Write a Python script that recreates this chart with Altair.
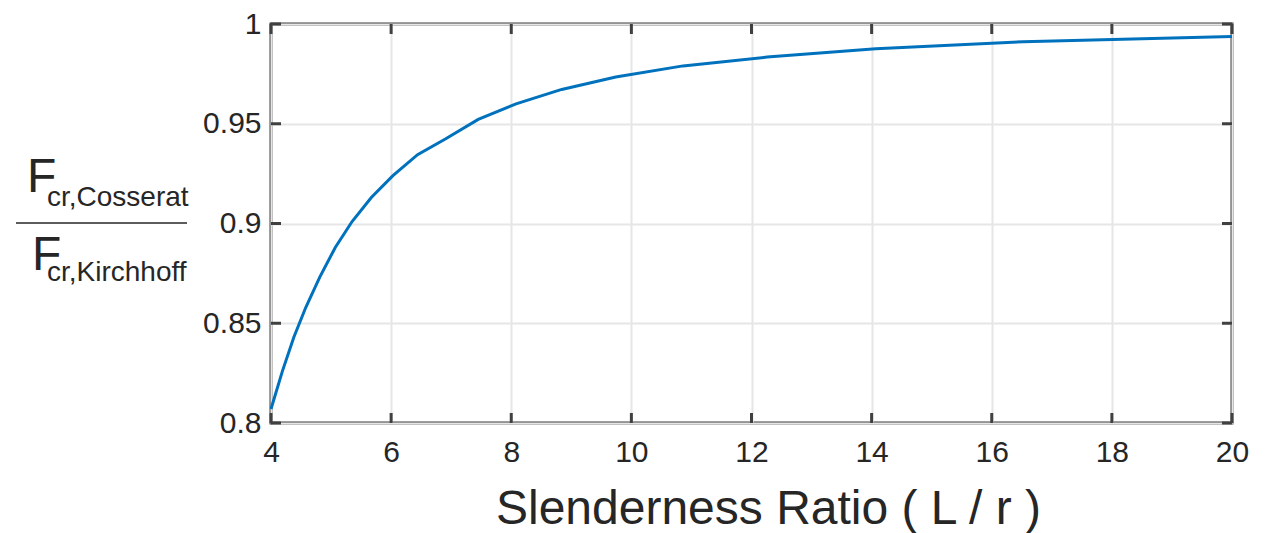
import altair as alt
import pandas as pd

# Data
slenderness = [4.0, 4.19, 4.38, 4.58, 4.81, 5.07, 5.35, 5.67, 6.03, 6.44,
               6.91, 7.45, 8.08, 8.84, 9.74, 10.86, 12.26, 14.07, 16.52, 20.0]
force_ratio = [0.807, 0.826, 0.843, 0.858, 0.873, 0.888, 0.901, 0.913, 0.924, 0.9345,
               0.9425, 0.9522, 0.960, 0.9672, 0.9734, 0.979, 0.9834, 0.9876, 0.9911, 0.9937]
x_ticks = [4, 6, 8, 10, 12, 14, 16, 18, 20]
y_ticks = [0.8, 0.85, 0.9, 0.95, 1.0]

W, H = 961, 399
FONT = "Liberation Sans"
TEXT = "#262626"
AXIS = "#404040"
LABEL_SIZE = 30

df = pd.DataFrame({"x": slenderness, "y": force_ratio})
xt = pd.DataFrame({"t": x_ticks})
yt = pd.DataFrame({"t": y_ticks})
one = pd.DataFrame({"a": [0]})

xscale = alt.Scale(domain=[4, 20], nice=False, zero=False)
yscale = alt.Scale(domain=[0.8, 1.0], nice=False, zero=False)

line = alt.Chart(df).mark_line(color="#0072BD", strokeWidth=3).encode(
    x=alt.X("x:Q", scale=xscale,
            axis=alt.Axis(values=x_ticks, format="~g", title="Slenderness Ratio ( L / r )",
                          titleFontSize=48, titleFont=FONT, titleColor=TEXT,
                          titleFontWeight="normal", titleX=497, titleY=100,
                          titleBaseline="alphabetic", titleAlign="center",
                          labelFont=FONT, labelFontSize=LABEL_SIZE, labelColor=TEXT,
                          labelPadding=14, labelFlush=False, labelOverlap=False)),
    y=alt.Y("y:Q", scale=yscale,
            axis=alt.Axis(values=y_ticks, format="~g", title=None,
                          labelFont=FONT, labelFontSize=LABEL_SIZE, labelColor=TEXT,
                          labelPadding=10, labelFlush=False, labelOverlap=False)),
)

tick_len = 10
bottom_ticks = alt.Chart(xt).mark_rule(color=AXIS, strokeWidth=3).encode(
    x=alt.X("t:Q", scale=xscale), y=alt.value(H), y2=alt.value(H - tick_len))
top_ticks = alt.Chart(xt).mark_rule(color=AXIS, strokeWidth=3).encode(
    x=alt.X("t:Q", scale=xscale), y=alt.value(0), y2=alt.value(tick_len))
left_ticks = alt.Chart(yt).mark_rule(color=AXIS, strokeWidth=3).encode(
    y=alt.Y("t:Q", scale=yscale), x=alt.value(0), x2=alt.value(tick_len))
right_ticks = alt.Chart(yt).mark_rule(color=AXIS, strokeWidth=3).encode(
    y=alt.Y("t:Q", scale=yscale), x=alt.value(W), x2=alt.value(W - tick_len))

def txt(s, x, y, size):
    return alt.Chart(one).mark_text(font=FONT, fontSize=size, color=TEXT,
                                    align="left", baseline="alphabetic").encode(
        x=alt.value(x), y=alt.value(y), text=alt.value(s))

f1 = txt("F", -244, 168, 48)
s1 = txt("cr,Cosserat", -224, 182, 28)
f2 = txt("F", -239, 246, 48)
s2 = txt("cr,Kirchhoff", -224, 257, 28)
frac = alt.Chart(one).mark_rule(color=TEXT, strokeWidth=1.5).encode(
    x=alt.value(-255), x2=alt.value(-84), y=alt.value(199))

chart = alt.layer(
    line, bottom_ticks, top_ticks, left_ticks, right_ticks, f1, s1, f2, s2, frac
).properties(
    width=W, height=H,
    autosize=alt.AutoSizeParams(type="none"),
    padding={"left": 263, "top": 16, "right": 25, "bottom": 110},
).configure_view(
    stroke=AXIS, strokeWidth=3
).configure_axis(
    ticks=False, domain=False, grid=True,
    gridColor="#e6e6e6", gridWidth=2,
)

chart.save("out.html", embed_options={"renderer": "svg", "actions": False})
